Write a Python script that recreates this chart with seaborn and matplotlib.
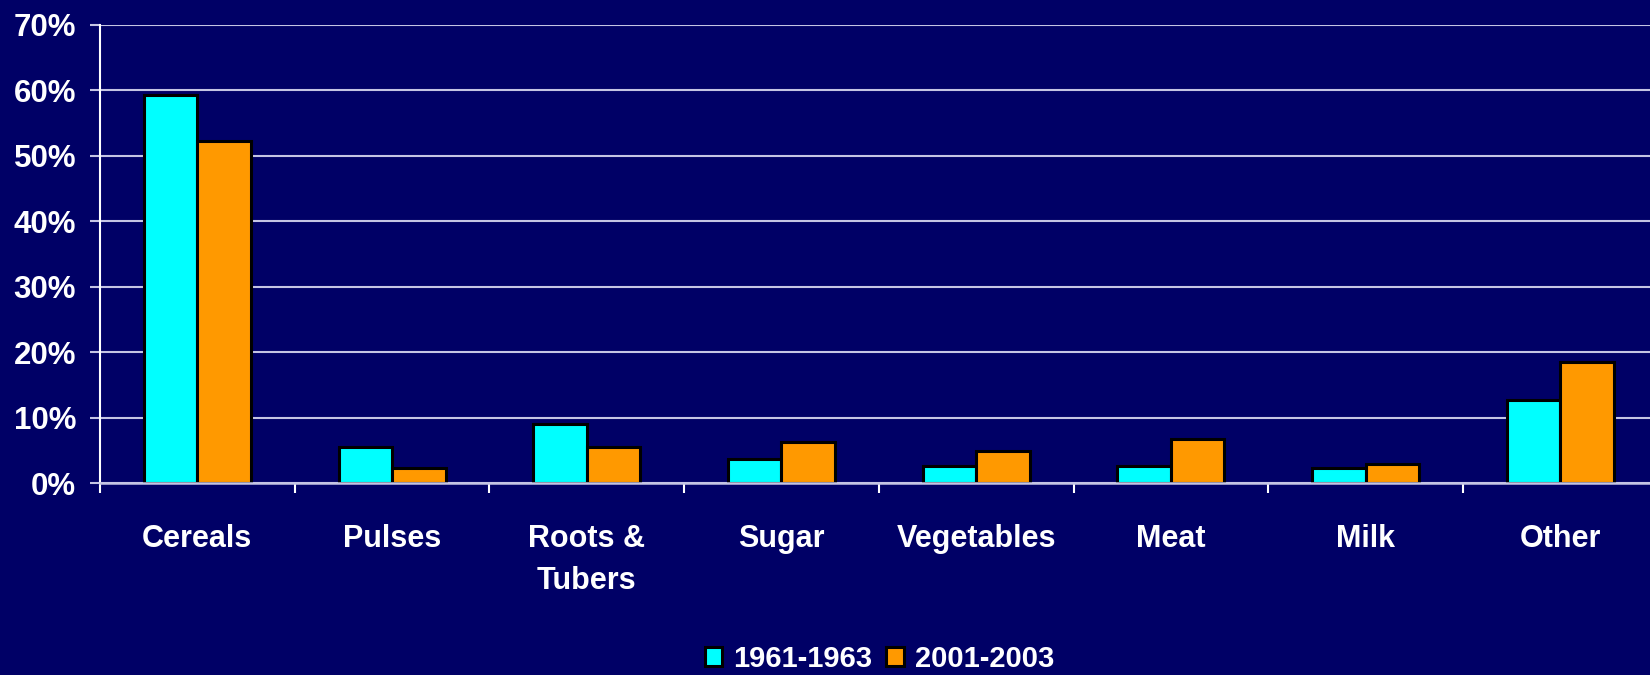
import numpy as np
import pandas as pd
import matplotlib
matplotlib.use("Agg")
import matplotlib.pyplot as plt
from matplotlib.ticker import PercentFormatter
import seaborn as sns

categories = ["Cereals", "Pulses", "Roots &\nTubers", "Sugar", "Vegetables", "Meat", "Milk", "Other"]
series_names = ["1961-1963", "2001-2003"]
values_1961 = [59.3, 5.6, 9.0, 3.7, 2.6, 2.6, 2.3, 12.7]
values_2001 = [52.3, 2.3, 5.6, 6.3, 5.0, 6.7, 3.0, 18.5]
yticks = [0, 10, 20, 30, 40, 50, 60, 70]

BG = "#000066"
GRID = "#C4C4E4"
colors = ["#00FFFF", "#FF9900"]

df = pd.DataFrame({
    "category": categories * 2,
    "period": [series_names[0]] * len(categories) + [series_names[1]] * len(categories),
    "value": values_1961 + values_2001,
})

sns.set_theme(style="white")
plt.rcParams["font.family"] = ["Liberation Sans", "DejaVu Sans"]
plt.rcParams["font.weight"] = "bold"

fig = plt.figure(figsize=(16.5, 6.75), dpi=100, facecolor=BG)
ax = fig.add_axes([100 / 1650, 1 - 483.3 / 675, 1557.6 / 1650, 458.3 / 675])
ax.set_facecolor(BG)

sns.barplot(data=df, x="category", y="value", hue="period", order=categories,
            hue_order=series_names, palette=colors, width=0.55, dodge=True,
            edgecolor="black", linewidth=2.2, saturation=1, ax=ax, zorder=3)

ax.set_xlim(-0.5, len(categories) - 0.5)
ax.set_ylim(0, 70)
ax.set_yticks(yticks)
ax.yaxis.set_major_formatter(PercentFormatter(100, decimals=0))
ax.set_xlabel("")
ax.set_ylabel("")

ax.grid(axis="y", color=GRID, linewidth=1.5, zorder=0)
ax.grid(axis="x", visible=False)
ax.set_axisbelow(True)

for s in ["top", "right"]:
    ax.spines[s].set_visible(False)
ax.spines["left"].set_color("white")
ax.spines["left"].set_linewidth(1.5)
ax.spines["bottom"].set_color(GRID)
ax.spines["bottom"].set_linewidth(1.8)
ax.spines["bottom"].set_zorder(5)

ax.tick_params(axis="y", which="major", left=True, length=7.2, width=1.5, color=GRID,
               pad=10, labelsize=22.5, labelcolor="white")
ax.set_xticks(np.arange(-0.5, len(categories), 1), minor=True)
ax.tick_params(axis="x", which="minor", bottom=True, length=7.5, width=1.5, color="white")
ax.tick_params(axis="x", which="major", bottom=False, length=0, pad=29,
               labelsize=22, labelcolor="white")
for lbl in ax.get_xticklabels():
    lbl.set_linespacing(1.55)
    lbl.set_fontweight("bold")
for lbl in ax.get_yticklabels():
    lbl.set_fontweight("bold")

handles, labels = ax.get_legend_handles_labels()
if ax.get_legend() is not None:
    ax.get_legend().remove()
leg = ax.legend(handles, labels, loc="center", bbox_to_anchor=(879.5 / 1650, 1 - 659 / 675),
                bbox_transform=fig.transFigure, ncol=2, frameon=False, fontsize=21,
                handlelength=0.6, handleheight=0.6, handletextpad=0.38, columnspacing=0.48,
                borderaxespad=0)
for t in leg.get_texts():
    t.set_color("white")
    t.set_fontweight("bold")

fig.savefig("out.png", dpi=100, facecolor=BG)
